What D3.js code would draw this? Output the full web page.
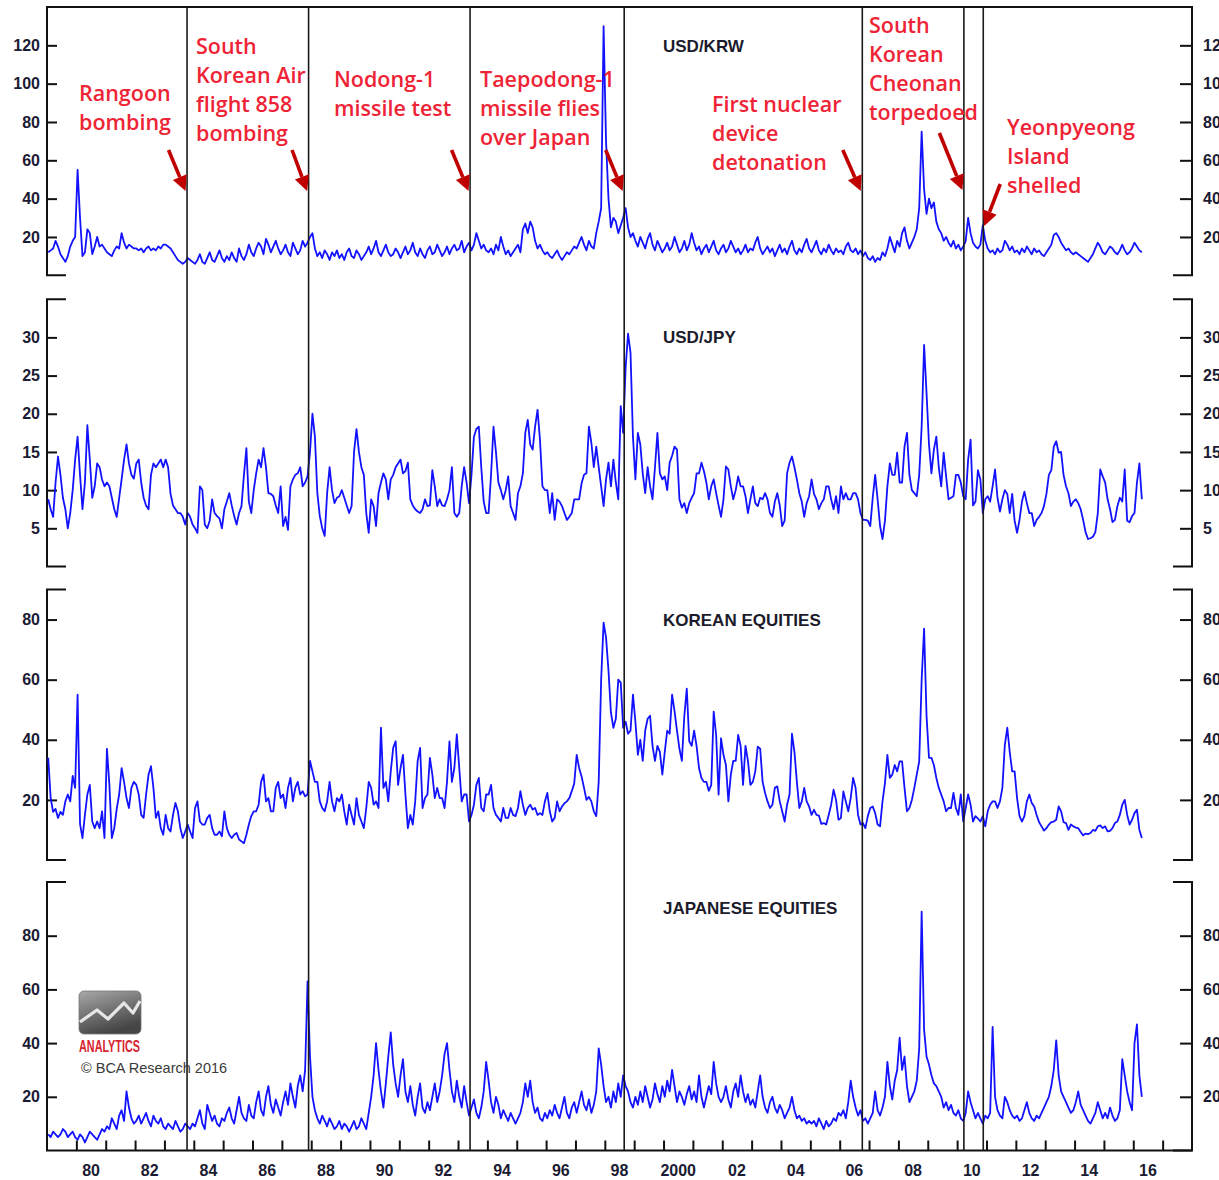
<!DOCTYPE html>
<html>
<head>
<meta charset="utf-8">
<script src="https://cdn.jsdelivr.net/npm/d3@7"></script>
<style>
  body { margin: 0; background: #fff; }
  svg { display: block; }
  .tk text { font: bold 16px "Liberation Sans", Arial, sans-serif; fill: #1b1b33; }
  .xl { font: bold 16px "Liberation Sans", Arial, sans-serif; fill: #1b1b33; }
  .ttl { font: bold 17px "Liberation Sans", Arial, sans-serif; fill: #1b1b2b; }
  .ann { font: 600 21.5px "Open Sans", sans-serif; fill: #ee2436; }
  .copy { font: 14.5px "Liberation Sans", Arial, sans-serif; fill: #3a3a3a; }
</style>
</head>
<body>
<svg id="chart" width="1219" height="1180"></svg>
<script>
// monthly volatility readings, Jan 1979 .. Apr 2016
var krwVol = [
  12,13,14,18,15,11,9,7,10,15,18,20,
  55,30,10,12,24,22,11,15,20,15,16,14,
  12,11,10,13,15,14,22,17,14,16,15,14,
  14,13,14,12,14,15,13,14,13,15,14,16,
  16,15,14,12,10,8,7,6,7,9,8,7,
  6,8,11,7,6,9,12,8,7,10,13,9,
  7,10,8,12,9,7,14,10,8,11,16,12,
  10,14,17,15,11,19,16,12,15,18,14,11,
  13,16,12,10,17,14,11,13,18,15,17,20,
  22,14,10,12,9,13,11,8,12,10,13,9,
  11,8,12,14,10,9,13,11,8,10,12,15,
  11,14,18,12,10,13,16,12,10,11,14,12,
  9,12,15,11,13,17,12,10,14,11,9,13,
  15,11,12,16,13,10,12,15,11,14,16,13,
  14,18,12,15,17,13,16,22,18,14,16,13,
  12,14,11,16,13,20,15,11,13,10,12,14,
  16,12,24,27,22,28,25,18,14,16,13,11,
  12,10,9,11,13,10,8,10,12,11,13,15,
  14,17,20,16,13,18,15,14,22,28,35,130,
  70,40,25,30,28,22,26,30,35,25,20,22,
  18,15,20,17,14,19,22,16,13,18,15,12,
  14,17,13,15,20,16,12,14,18,13,16,22,
  17,13,15,11,14,16,12,15,18,13,11,14,
  16,12,14,18,15,12,14,11,13,16,12,14,
  13,17,20,14,11,13,15,12,14,10,13,16,
  12,14,11,15,18,13,11,14,12,16,19,14,
  12,15,18,13,11,14,12,16,13,11,14,12,
  13,11,15,17,13,12,14,11,13,10,12,9,
  8,10,7,9,8,12,10,14,20,16,12,18,
  15,22,25,18,14,17,20,24,35,75,45,32,
  40,35,38,28,24,22,18,20,17,15,18,14,
  16,13,15,18,30,22,17,15,14,16,26,18,
  14,12,13,11,14,12,13,18,16,13,15,12,
  13,11,14,12,15,13,11,14,12,13,11,10,
  12,14,16,21,22,20,17,15,13,14,12,11,
  12,11,10,9,8,7,9,11,14,17,15,12,
  11,13,15,14,12,11,13,16,13,11,12,14,
  17,15,13,12
];
var jpyVol = [
  8.8,7.5,6.5,11,14.4,12,9,7.5,5,7,10,14,
  17,12,7.5,11,18.5,14,9,10.5,13.5,13,11.4,10.5,
  11,10.5,9,7.5,6.5,9,11.4,14,16,13.5,12,11.5,
  13.5,14,11,9,8,7.5,12,13.5,13,13.5,14,13,
  14,13,9.5,8,7.5,7,7,6.5,5.5,7,6.5,5.5,
  5,4.4,10.5,10,5.5,5,6,8.8,7,6.6,6.3,5,
  7.5,8.5,9.6,8,6.6,5.5,7,7.9,12,15.5,8.5,7,
  10,12.2,14,13,15.5,13,9.6,9.5,9.2,8,7,10.5,
  5.3,6.5,4.8,10.5,11.4,12,12.2,13,10.5,11,11.8,15,
  20,17,9.6,6.6,5,4,9.6,13,10,8.3,9,9.2,
  10,9,8,7,7.9,15,18,15,13,12,7,4.4,
  8.8,7.9,5.3,9.6,11,12.2,11.4,8.8,11.4,12,13,13.5,
  14,12.2,12.5,13.6,8.8,8,7.5,7.2,7,7.5,8.8,7.9,
  8,12.6,10.5,7.9,8.8,8,7.9,8.8,10,13,7,6.5,
  7,10.5,13,11,8.3,12,17,18,18.3,13,8.5,7,
  7,12,18.3,15,11,10,8.8,10,11.8,7.9,7,6.1,
  9.6,10.5,12.2,17.5,19.2,16,15.3,18.3,20.5,16.6,10.5,10,
  10,7,9.6,6.1,8.8,8.5,7.9,7,6.1,6.5,7,8.8,
  8.8,8.8,10.9,12,12.2,18.3,16.2,13,15.7,13,10.5,7.9,
  11.4,13.6,10.5,14,11,8.8,21,17.5,26,30.5,28,17,
  11.4,17.5,16,12.2,9.6,13,10.5,8.8,13,17.5,12.2,11.4,
  11.8,10,13.6,14.5,15.7,15.3,8.8,7.7,8.3,7,8.3,9,
  9.6,12.2,12.2,13.6,12.5,11,8.8,10.5,11.4,9.6,8,6.5,
  8.8,13.1,12.7,10.5,8.8,10,11.8,10.5,10.5,9.2,7,8.8,
  10.5,8.3,7.9,9,8.8,9.6,8.8,7,6.5,8.5,9.6,8,
  5.3,6,12.2,13.6,14.4,13,11.4,9.6,8.5,6.5,8.3,9.2,
  11.4,9.5,8.8,7.5,8.3,8.8,10.5,10.5,8.8,7.5,9.2,7,
  10.5,8.8,9.6,8.8,8.8,9.6,9.6,8.8,7,6.1,6.1,6,
  5.3,9,12,8.8,5.3,3.6,6,10.5,13.5,12,12,14.9,
  11,11,15.7,17.5,12,10,9.6,9.2,12,18.3,29,22.7,
  16,12.2,15.3,17,13,10.5,14.9,11.8,8.8,9,9.2,12,
  12,11,9.2,8.8,14,16.6,8,8.5,12.6,11.4,7,8.8,
  9.2,8.5,10.5,12.7,9,7.2,8.8,10,9.5,7,9.5,6,
  4.4,6.1,8.5,9.8,8.3,7,7,5.3,6.1,6.5,7,7.9,
  9.5,12,12.6,15.7,16.4,14.9,15,12,10.5,9.6,7.9,8.5,
  8.8,8.3,7.5,6.1,4.5,3.6,3.7,3.9,4.5,7,12.7,11.8,
  11,8.8,7.5,5.8,6.1,7.9,9,8.5,12.7,6,5.8,6.6,
  7,11,13.5,8.8
];
var koreaEqVol = [
  34,20.6,16,17,14,16,15,19.5,21.8,19.5,28,24,
  55,12,7.3,15,21.8,25,12.8,10.6,12.8,10.6,16.2,7.3,
  37,25,7.3,10.6,17,21.8,30.6,26,20.6,17.3,24,26,
  25,21.8,15,14,21.8,28.4,31.2,24,14,16.2,10.6,8.4,
  15,10.6,9.5,15,19,16.2,10.6,7.3,9.5,11.8,9.5,7.3,
  17.3,19.5,12.8,11.8,11.8,14,15,10.6,8.4,8.4,9.5,7.9,
  16.2,10.6,8.4,7.3,8.4,9,6.8,6.2,5.6,8.4,11.8,14.6,
  16.2,16.2,18.4,26,28.4,19.5,20.6,16.2,16.2,24,26,20.6,
  21.8,17.3,24,27.3,19.5,24,26,21.8,22.9,21.2,21.8,33,
  29.5,26,26,19.5,17.3,16.2,19.5,26,19.5,16.2,20.6,19.5,
  21.8,16.2,11.8,18.4,15,11.8,20.6,15,12.8,10.6,17.3,26,
  24,18.4,19.5,17.3,44,24,26,19.5,29.5,37.3,39.5,25,
  30.6,35,21.8,10.6,15,11.8,19.5,33,37.3,17.3,20.6,21.8,
  34,28.4,20.6,24,20.6,20.6,17.3,26,39.5,26,30.6,41.8,
  30.6,19.5,21.8,21.8,12.8,15,18.4,25,27.3,17.3,16.2,21.8,
  21.8,25,17.3,15,14,12.8,17.3,14,14,17.3,15,14.6,
  17.3,22.9,18.4,15,17.3,18.4,16.8,17.3,15,15.6,15,19.5,
  22.3,16.2,12.8,14,19.5,16.2,17.8,18.9,19.5,20.6,22.9,25.5,
  35,30.6,27.8,24,20,21,19.5,16.2,14.6,26,60,79,
  74,63,49,44,47,60,59,44,46,42,43,55,
  46,35,40,33,43,47,48,38,33,38,36,28.4,
  36,43,42,55,49.5,43,37,33,48,57,39.5,38,
  43,38,30.6,27.3,26,26,23,25,49.4,41.6,21.8,40.5,
  35,31.6,19.5,28.4,33,33,41.6,38,25,38,33,25,
  26,29.5,37.7,37,26,22.3,19.5,17.3,18.4,24,24.5,19.5,
  16.2,12.8,18.4,21.8,42,36,26,17.3,19.5,24,19.5,17.8,
  15,16.7,15,14.8,12,12.3,11.8,15,18.4,23.4,20,13.4,
  14,22.8,19.5,16.2,20.6,27.3,24,15,11.8,12.3,10.6,14.6,
  17.3,17.8,15.6,11.8,11.2,19.5,25.6,35,27.3,28.4,31.6,29.5,
  32.8,32.8,24,16.2,17.3,20,24,28.4,32.8,60,77,48,
  34,34,31.6,27.3,24,21.8,19.5,16.2,17.3,17.3,22.3,17.3,
  15,21.8,12.8,17.3,21.8,18.4,12.8,14.6,13.8,12.8,14.6,11.2,
  16.2,18.4,19.5,19.5,17.3,19.5,24,38.3,44,36,29.5,29.5,
  20.6,14.6,12.8,14.6,19.5,21.8,19,17.8,15,12.6,11.2,9.8,
  10.6,11.8,12.6,12.8,13.4,17.8,16.2,12.6,12.3,10,11.8,11.2,
  10.8,10.6,9.3,8.2,8.8,8.6,9,10,9.7,11.2,11.5,10.6,
  11.2,9.5,9.7,10.6,12.3,12.8,15,18.4,20,15,11.8,13.4,
  15.6,16.7,10,7.3
];
var japanEqVol = [
  6,5,7,6,5,6,8,7,5,6,7,5,
  4,6,5,3,5,7,6,5,4,6,8,7,
  9,8,12,10,8,13,15,11,22,16,12,10,
  11,13,10,12,14,11,9,13,11,10,12,9,
  8,10,9,8,11,9,7,8,10,9,8,10,
  9,12,15,10,8,17,14,11,13,10,9,12,
  11,14,16,12,10,15,20,14,12,11,17,13,
  12,18,22,15,13,20,24,17,14,19,16,13,
  18,22,17,25,20,16,24,28,22,30,63,35,
  20,15,12,10,13,11,9,12,10,8,9,11,
  8,10,9,7,9,11,8,9,12,10,8,14,
  20,28,40,30,22,16,25,35,44,32,25,20,
  28,34,22,18,24,17,13,20,25,16,14,18,
  15,20,25,18,22,28,36,40,30,22,18,26,
  20,16,24,18,13,16,19,14,12,16,22,33,
  26,18,14,20,17,12,15,13,11,14,12,10,
  12,14,18,25,20,26,18,14,16,12,11,14,
  12,15,13,17,14,12,16,20,14,12,16,18,
  14,18,22,17,15,19,14,17,22,38,32,24,
  18,20,16,22,18,25,20,28,24,22,18,16,
  20,17,22,18,24,20,16,19,25,21,18,24,
  20,26,22,30,24,18,22,20,17,21,24,19,
  22,18,28,20,16,20,24,21,33,25,20,18,
  20,24,19,16,22,25,20,28,22,18,21,17,
  19,16,22,28,20,16,14,18,20,16,14,17,
  15,12,14,16,20,15,12,13,11,12,10,11,
  10,11,9,12,10,8,11,9,10,12,11,14,
  13,15,12,18,26,20,16,13,15,11,12,10,
  12,14,22,15,13,16,20,33,24,19,26,30,
  42,30,35,24,18,20,22,26,38,89,45,35,
  32,28,25,24,22,20,16,18,15,17,14,13,
  15,12,11,14,22,18,15,12,14,12,10,13,
  12,14,46,20,15,13,12,20,18,15,13,12,
  13,11,12,15,18,14,12,11,13,12,14,16,
  18,20,24,30,41,28,22,20,18,16,14,15,
  18,22,17,15,13,11,10,12,14,18,15,12,
  14,12,16,13,11,12,15,34,28,22,18,15,
  40,47,28,20
];

var krwTicks = [20, 40, 60, 80, 100, 120];
var jpyTicks = [5, 10, 15, 20, 25, 30];
var koreaEqTicks = [20, 40, 60, 80];
var japanEqTicks = [20, 40, 60, 80];
var xTickLabels = ["80","82","84","86","88","90","92","94","96","98","2000",
                   "02","04","06","08","10","12","14","16"];

// geopolitical events (decimal years) and their captions
var eventDates = [1983.77, 1987.91, 1993.41, 1998.66, 2006.77, 2010.23, 2010.89];
var eventLabels = [
  ["Rangoon", "bombing"],
  ["South", "Korean Air", "flight 858", "bombing"],
  ["Nodong-1", "missile test"],
  ["Taepodong-1", "missile flies", "over Japan"],
  ["First nuclear", "device", "detonation"],
  ["South", "Korean", "Cheonan", "torpedoed"],
  ["Yeonpyeong", "Island", "shelled"]
];

var svg = d3.select("#chart");
var xL = 47, xR = 1192;
var x = d3.scaleLinear().domain([1979, 2018]).range([xL, xR]);

var panels = [
  { name: "USD/KRW", values: krwVol, ticks: krwTicks, max: 140, top: 7, bottom: 275.3, titleY: 52 },
  { name: "USD/JPY", values: jpyVol, ticks: jpyTicks, max: 35, top: 299.2, bottom: 566.5, titleY: 343 },
  { name: "KOREAN EQUITIES", values: koreaEqVol, ticks: koreaEqTicks, max: 90, top: 589.5, bottom: 860, titleY: 626 },
  { name: "JAPANESE EQUITIES", values: japanEqVol, ticks: japanEqTicks, max: 100, top: 882, bottom: 1150.5, titleY: 914 }
];

var stub = 19;

panels.forEach(function(p, k) {
  var y = d3.scaleLinear().domain([0, p.max]).range([p.bottom, p.top]);
  var g = svg.append("g");

  // left / right axes with inward ticks
  var la = g.append("g").attr("class", "tk")
    .attr("transform", "translate(" + xL + ",0)")
    .call(d3.axisLeft(y).tickValues(p.ticks).tickSize(-10).tickPadding(7));
  var ra = g.append("g").attr("class", "tk")
    .attr("transform", "translate(" + xR + ",0)")
    .call(d3.axisRight(y).tickValues(p.ticks).tickSize(-12).tickPadding(11));
  [la, ra].forEach(function(a) {
    a.select(".domain").remove();
    a.selectAll("line").attr("stroke", "#111").attr("stroke-width", 2);
  });

  // bracket frames
  var topL = k == 0 ? xR : xL + stub;
  g.append("path")
    .attr("d", "M" + topL + "," + p.top + "H" + xL + "V" + p.bottom + "H" + (k == 3 ? xR : xL + stub))
    .attr("fill", "none").attr("stroke", "#111").attr("stroke-width", 2);
  g.append("path")
    .attr("d", "M" + (xR - stub) + "," + p.top + "H" + xR + "V" + p.bottom + "H" + (xR - stub))
    .attr("fill", "none").attr("stroke", "#111").attr("stroke-width", 2);

  g.append("text").attr("class", "ttl").attr("x", 663).attr("y", p.titleY).text(p.name);

  var line = d3.line()
    .x(function(d, i) { return x(1979 + (i + 0.5) / 12); })
    .y(function(d) { return y(d); })
    .curve(d3.curveLinear);
  g.append("path").datum(p.values)
    .attr("d", line)
    .attr("fill", "none")
    .attr("stroke", "#1212ff")
    .attr("stroke-width", 1.8)
    .attr("stroke-linejoin", "round");

  if (k == 3) {
    var xa = g.append("g").attr("class", "tk")
      .attr("transform", "translate(0," + p.bottom + ")")
      .call(d3.axisBottom(x).tickValues(d3.range(1980, 2018)).tickSize(-10).tickFormat(""));
    xa.select(".domain").remove();
    xa.selectAll("line").attr("stroke", "#111").attr("stroke-width", 2);
    g.selectAll(".xl").data(xTickLabels).enter().append("text")
      .attr("class", "xl")
      .attr("x", function(d, i) { return x(1980 + 2 * i + 0.5); })
      .attr("y", 1176)
      .attr("text-anchor", "middle")
      .text(function(d) { return d; });
  }
});

// event lines
svg.selectAll(".ev").data(eventDates).enter().append("line")
  .attr("class", "ev")
  .attr("x1", function(d) { return x(d); })
  .attr("x2", function(d) { return x(d); })
  .attr("y1", 7).attr("y2", 1150.5)
  .attr("stroke", "#1a1a1a").attr("stroke-width", 1.6);

// captions: left x, first baseline
var capPos = [[79, 101], [196, 54], [334, 87], [480, 87], [712, 112], [869, 33], [1007, 135]];
// arrow tails relative to tip on the event line
var arrowTail = [[-17, -41], [-15, -41], [-17, -41], [-17, -41], [-18, -41], [-23, -57], [16, -42]];
var arrowTipY = [191, 191, 191, 191, 191, 190, 226];

eventLabels.forEach(function(lines, i) {
  var t = svg.append("text").attr("class", "ann")
    .attr("x", capPos[i][0]).attr("y", capPos[i][1]);
  lines.forEach(function(s, j) {
    t.append("tspan").attr("x", capPos[i][0]).attr("dy", j ? 29 : 0).text(s);
  });
});

function arrow(x1, y1, x2, y2) {
  var a = Math.atan2(y2 - y1, x2 - x1), hl = 15, hw = 7.5;
  var bx = x2 - hl * Math.cos(a), by = y2 - hl * Math.sin(a);
  svg.append("line").attr("x1", x1).attr("y1", y1).attr("x2", bx).attr("y2", by)
    .attr("stroke", "#c00000").attr("stroke-width", 3.6);
  var pts = [[x2, y2],
             [bx + hw * Math.sin(a), by - hw * Math.cos(a)],
             [bx - hw * Math.sin(a), by + hw * Math.cos(a)]];
  svg.append("polygon").attr("points", pts.map(function(q) { return q.join(","); }).join(" "))
    .attr("fill", "#c00000");
}
eventDates.forEach(function(d, i) {
  var tx = x(d) + (arrowTail[i][0] > 0 ? 1 : -1.5), ty = arrowTipY[i];
  arrow(tx + arrowTail[i][0], ty + arrowTail[i][1], tx, ty);
});

// logo + credit
var defs = svg.append("defs");
var gr = defs.append("linearGradient").attr("id", "lg").attr("x1", 0).attr("y1", 0).attr("x2", 0.4).attr("y2", 1);
gr.append("stop").attr("offset", 0).attr("stop-color", "#a8a8a8");
gr.append("stop").attr("offset", 1).attr("stop-color", "#454545");
svg.append("rect").attr("x", 79).attr("y", 991).attr("width", 62).attr("height", 43).attr("rx", 5)
  .attr("fill", "url(#lg)").attr("stroke", "#777").attr("stroke-width", 0.8);
svg.append("polyline")
  .attr("points", "80,1022 97,1010 108,1019 124,1003 133,1013 140,1001")
  .attr("fill", "none").attr("stroke", "#e6e6e6").attr("stroke-width", 3.2).attr("stroke-linejoin", "round");
svg.append("text").attr("x", 79).attr("y", 1052)
  .attr("textLength", 61).attr("lengthAdjust", "spacingAndGlyphs")
  .style("font", "bold 17px 'Liberation Sans Narrow', 'Liberation Sans', sans-serif")
  .style("fill", "#d8232f").text("ANALYTICS");
svg.append("text").attr("class", "copy").attr("x", 81).attr("y", 1073).text("\u00A9 BCA Research 2016");
</script>
</body>
</html>
